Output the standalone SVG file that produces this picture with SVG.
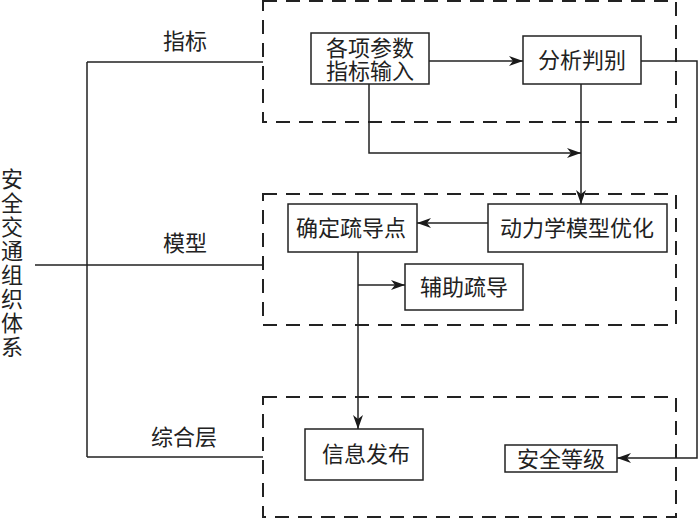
<svg xmlns="http://www.w3.org/2000/svg" width="700" height="519" viewBox="0 0 700 519">
<defs>
<marker id="ah" markerWidth="14" markerHeight="10" refX="14" refY="5" orient="auto" markerUnits="userSpaceOnUse">
<path d="M0,0 L14,5 L0,10 L4,5 Z" fill="#1a1a1a"/>
</marker>
</defs>
<style>
.t{font-family:"Liberation Sans","Noto Sans CJK SC",sans-serif;font-size:22px;fill:#222;text-anchor:middle}
.b{fill:#fff;stroke:#222;stroke-width:1.5}
.d{fill:none;stroke:#222;stroke-width:2;stroke-dasharray:14,9}
.c{fill:none;stroke:#222;stroke-width:1.5}
</style>
<rect width="700" height="519" fill="#fff"/>
<g id="layers">
<rect class="d" x="263" y="1" width="413" height="121"/>
<rect class="d" x="263" y="194" width="413" height="131"/>
<rect class="d" x="263" y="397" width="413" height="120"/>
</g>
<g id="connectors">
<path class="c" d="M87,62 V457 M87,62 H263 M35,265 H263 M87,457 H263"/>
<path class="c" d="M429,61 H523" marker-end="url(#ah)"/>
<path class="c" d="M369,84 V153 H581" marker-end="url(#ah)"/>
<path class="c" d="M581,84 V204" marker-end="url(#ah)"/>
<path class="c" d="M641,61 H697 V458 H617" marker-end="url(#ah)"/>
<path class="c" d="M488,223 H417" marker-end="url(#ah)"/>
<path class="c" d="M358,252 V429" marker-end="url(#ah)"/>
<path class="c" d="M358,285 H405" marker-end="url(#ah)"/>
</g>
<g id="root-label">
<text class="t"><tspan x="12" y="187">安</tspan><tspan x="12" y="211">全</tspan><tspan x="12" y="235">交</tspan><tspan x="12" y="259">通</tspan><tspan x="12" y="283">组</tspan><tspan x="12" y="307">织</tspan><tspan x="12" y="331">体</tspan><tspan x="12" y="355">系</tspan></text>
</g>
<g id="label-zhibiao"><text class="t" x="185" y="49">指标</text></g>
<g id="label-moxing"><text class="t" x="185" y="251">模型</text></g>
<g id="label-zonghe"><text class="t" x="184" y="445">综合层</text></g>
<g id="n-input">
<rect class="b" x="311" y="33" width="118" height="51"/>
<text class="t" x="370" y="56">各项参数</text>
<text class="t" x="370" y="79">指标输入</text>
</g>
<g id="n-analysis">
<rect class="b" x="523" y="36" width="118" height="48"/>
<text class="t" x="582" y="68">分析判别</text>
</g>
<g id="n-point">
<rect class="b" x="288" y="204" width="129" height="48"/>
<text class="t" x="351" y="236">确定疏导点</text>
</g>
<g id="n-dynamic">
<rect class="b" x="488" y="204" width="179" height="48"/>
<text class="t" x="577" y="236">动力学模型优化</text>
</g>
<g id="n-assist">
<rect class="b" x="405" y="264" width="118" height="46"/>
<text class="t" x="464" y="295">辅助疏导</text>
</g>
<g id="n-info">
<rect class="b" x="305" y="429" width="118" height="51"/>
<text class="t" x="366" y="462">信息发布</text>
</g>
<g id="n-level">
<rect class="b" x="505" y="445" width="112" height="27"/>
<text class="t" x="561" y="467">安全等级</text>
</g>
</svg>
